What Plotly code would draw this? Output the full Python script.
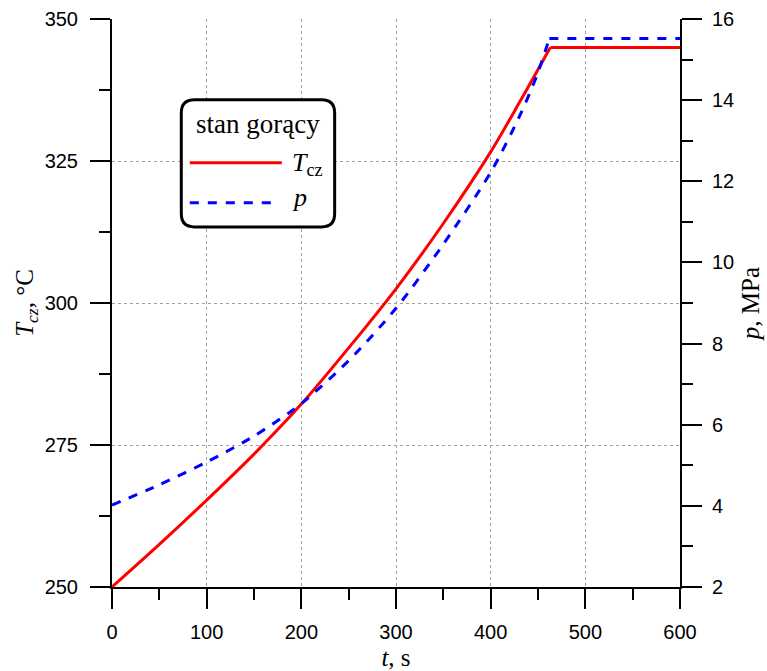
import plotly.graph_objects as go

# Hot start-up: metal temperature T_cz and pressure p versus time
t_T = [0, 50, 100, 150, 200, 250, 300, 350, 400, 430, 463, 600]
T_cz = [250.0, 257.5, 265.3, 273.4, 282.2, 292.1, 302.5, 314.0, 326.6, 335.2, 345.0, 345.0]

t_p = [0, 50, 100, 150, 200, 250, 300, 350, 400, 431, 449, 462, 600]
p = [4.02, 4.52, 5.08, 5.72, 6.52, 7.58, 8.87, 10.45, 12.22, 13.63, 14.62, 15.52, 15.52]

x_ticks = [0, 100, 200, 300, 400, 500, 600]
T_ticks = [250, 275, 300, 325, 350]
p_ticks = [2, 4, 6, 8, 10, 12, 14, 16]

SERIF = "Liberation Serif"
SANS = "Liberation Sans"
RED = "#ff0000"
BLUE = "#0000ff"

fig = go.Figure()


def add_series(t, v, line, axis):
    # smooth rising part (spline) followed by the straight plateau
    k = len(t) - 1
    fig.add_trace(go.Scatter(x=t[:k], y=v[:k], mode="lines", line=dict(shape="spline", smoothing=0.8, **line),
                             showlegend=False, yaxis=axis))
    fig.add_trace(go.Scatter(x=t[k - 1:], y=v[k - 1:], mode="lines", line=line,
                             showlegend=False, yaxis=axis))


add_series(t_T, T_cz, dict(color=RED, width=3), "y")
add_series(t_p, p, dict(color=BLUE, width=3, dash="dash"), "y2")

axis_common = dict(
    showline=True, linecolor="black", linewidth=2,
    ticks="outside", ticklen=20, tickwidth=2, tickcolor="black",
    tickfont=dict(family=SANS, size=20, color="black"),
    zeroline=False, automargin=False,
)

fig.update_layout(
    width=767, height=671,
    margin=dict(l=112, r=87, t=19, b=84),
    plot_bgcolor="white", paper_bgcolor="white",
    xaxis=dict(
        range=[0, 600], tickvals=x_ticks, **axis_common,
        showgrid=True, gridcolor="#a0a0a0", gridwidth=1, griddash="dot",
        minor=dict(ticks="outside", ticklen=11, tickwidth=2, tickcolor="black", dtick=50, showgrid=False),
        title=dict(text="<i>t</i>, s", font=dict(family=SERIF, size=25, color="black"), standoff=6),
        ticklabelstandoff=6,
    ),
    yaxis=dict(
        range=[250, 350], tickvals=T_ticks, **axis_common,
        showgrid=True, gridcolor="#a0a0a0", gridwidth=1, griddash="dot",
        minor=dict(ticks="outside", ticklen=11, tickwidth=2, tickcolor="black", dtick=12.5, showgrid=False),
        title=dict(text="<i>T<sub>cz</sub></i>, °C", font=dict(family=SERIF, size=25, color="black"), standoff=4),
        ticklabelstandoff=8,
    ),
    yaxis2=dict(
        range=[2, 16], tickvals=p_ticks, overlaying="y", side="right", **axis_common,
        showgrid=False,
        minor=dict(ticks="outside", ticklen=11, tickwidth=2, tickcolor="black", dtick=1, showgrid=False),
        title=dict(text="<i>p</i>, MPa", font=dict(family=SERIF, size=25, color="black"), standoff=8),
        ticklabelstandoff=6,
    ),
)

# Legend drawn as a rounded box in paper coordinates (plot area is square)
x0, x1, y0, y1, r = 0.122, 0.392, 0.634, 0.858, 0.023
path = (f"M{x0 + r},{y0} L{x1 - r},{y0} Q{x1},{y0} {x1},{y0 + r} "
        f"L{x1},{y1 - r} Q{x1},{y1} {x1 - r},{y1} L{x0 + r},{y1} Q{x0},{y1} {x0},{y1 - r} "
        f"L{x0},{y0 + r} Q{x0},{y0} {x0 + r},{y0} Z")
fig.add_shape(type="path", path=path, xref="paper", yref="paper",
              line=dict(color="black", width=3), fillcolor="white", layer="above")
fig.add_shape(type="line", xref="paper", yref="paper", x0=0.137, x1=0.299, y0=0.747, y1=0.747,
              line=dict(color=RED, width=3), layer="above")
fig.add_shape(type="line", xref="paper", yref="paper", x0=0.137, x1=0.287, y0=0.6766, y1=0.6766,
              line=dict(color=BLUE, width=3, dash="dash"), layer="above")

fig.add_annotation(text="stan gorący", xref="paper", yref="paper", x=0.2565, y=0.815,
                   xanchor="center", yanchor="middle", showarrow=False,
                   font=dict(family=SERIF, size=27, color="black"))
fig.add_annotation(text="<i>T</i><sub>cz</sub>", xref="paper", yref="paper", x=0.313, y=0.745,
                   xanchor="left", yanchor="middle", showarrow=False,
                   font=dict(family=SERIF, size=26, color="black"))
fig.add_annotation(text="<i>p</i>", xref="paper", yref="paper", x=0.313, y=0.6866,
                   xanchor="left", yanchor="middle", showarrow=False,
                   font=dict(family=SERIF, size=26, color="black"))

fig.write_html("out.html")
